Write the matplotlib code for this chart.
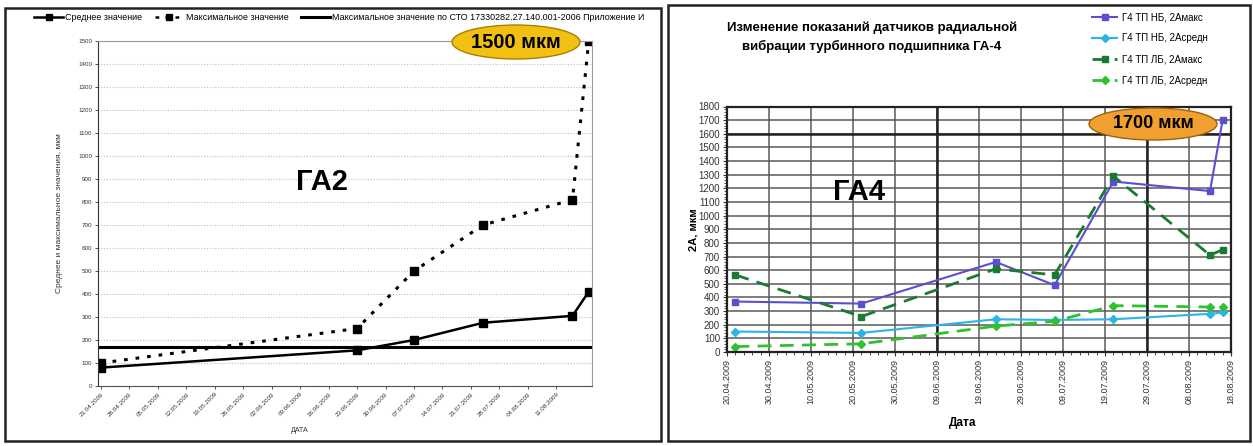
import pandas as pd
import matplotlib.pyplot as plt
import matplotlib.dates as mdates
from matplotlib.patches import Ellipse, Rectangle
from matplotlib.lines import Line2D
from matplotlib.ticker import MultipleLocator, FixedLocator

plt.rcParams['font.family'] = ['Liberation Sans', 'DejaVu Sans']

# ГА2: среднее и максимальное значения
ga2_dates = pd.to_datetime(['2009-04-21', '2009-06-23', '2009-07-07',
                            '2009-07-24', '2009-08-15', '2009-08-19'])
ga2_mean = [80, 155, 200, 275, 305, 410]
ga2_max = [100, 250, 500, 700, 810, 1500]
ga2_limit = 170
ga2_ticks = pd.date_range('2009-04-21', '2009-08-11', freq='7D')

# ГА4: датчики радиальной вибрации
ga4_dates = pd.to_datetime(['2009-04-22', '2009-05-22', '2009-06-23', '2009-07-07',
                            '2009-07-21', '2009-08-13', '2009-08-16'])
nb_max = [370, 355, 660, 490, 1250, 1180, 1700]
nb_mean = [150, 140, 240, 235, 240, 280, 290]
lb_max = [565, 260, 610, 565, 1290, 710, 750]
lb_mean = [40, 60, 190, 225, 340, 330, 330]
ga4_ticks = pd.date_range('2009-04-20', '2009-08-18', freq='10D')

W, H = 1253, 446
fig = plt.figure(figsize=(W / 100, H / 100), dpi=100)


def box(x0, y0, x1, y1):
    # pixel box (top-left origin) -> figure fraction rect
    return [x0 / W, 1 - y1 / H, (x1 - x0) / W, (y1 - y0) / H]


# panel frames
for x0, y0, x1, y1 in [(5, 8, 661, 441), (668, 5, 1250, 441)]:
    r = box(x0, y0, x1, y1)
    fig.add_artist(Rectangle((r[0], r[1]), r[2], r[3], transform=fig.transFigure,
                             fill=False, edgecolor='#222222', lw=1.8))

# ---------------- left chart ----------------
ax1 = fig.add_axes(box(98, 41, 592, 386))
ax1.plot(ga2_dates, ga2_mean, color='black', lw=1.8, marker='s', ms=6)
ax1.plot(ga2_dates, ga2_max, color='black', lw=2.2, ls=(0, (1.2, 2.6)),
         marker='s', ms=6)
ax1.axhline(ga2_limit, color='black', lw=2.2)

d0 = mdates.date2num(pd.Timestamp('2009-04-21'))
ax1.set_xlim(d0 - 0.75, d0 + 120.8)
ax1.set_ylim(0, 1500)
ax1.yaxis.set_major_locator(MultipleLocator(100))
ax1.set_xticks(mdates.date2num(ga2_ticks))
ax1.set_xticklabels([d.strftime('%d.%m.%Y') for d in ga2_ticks],
                    rotation=45, ha='right', rotation_mode='anchor')
ax1.tick_params(labelsize=4.5, length=2, width=0.6, colors='#333333', pad=2)
ax1.yaxis.grid(True, color='#bdbdbd', lw=0.8, ls=(0, (1, 1.5)))
ax1.set_axisbelow(True)
for s in ['top', 'right']:
    ax1.spines[s].set_color('#9a9a9a')
    ax1.spines[s].set_linewidth(0.8)
ax1.spines['left'].set_color('#333333')
ax1.spines['bottom'].set_color('#555555')
ax1.set_ylabel('Среднее и максимальное значения, мкм', fontsize=6, color='#333333')
ax1.yaxis.set_label_coords(-0.071, 0.5)
fig.text(300 / W, 1 - 431 / H, 'ДАТА', fontsize=5, ha='center', va='center', color='#333333')
fig.text(322 / W, 1 - 182 / H, 'ГА2', fontsize=21, weight='bold', ha='center', va='center')

leg_handles = [
    Line2D([], [], color='black', lw=1.8, marker='s', ms=5),
    Line2D([], [], color='black', lw=1.8, ls=(0, (1.5, 2.5)), marker='s', ms=5),
    Line2D([], [], color='black', lw=2.2),
]
leg_labels = ['Среднее значение', 'Максимальное значение',
              'Максимальное значение по СТО 17330282.27.140.001-2006 Приложение И']
fig.legend(leg_handles, leg_labels, loc='center left', bbox_to_anchor=(34 / W, 1 - 18 / H),
           ncol=3, frameon=False, fontsize=6.4, handlelength=3.3, columnspacing=1.4,
           handletextpad=0.2, borderpad=0, borderaxespad=0)

e = Ellipse((516 / W, 1 - 42 / H), 128 / W, 34 / H, transform=fig.transFigure,
            facecolor='#f2c012', edgecolor='#a88000', lw=1, zorder=5)
fig.add_artist(e)
fig.text(516 / W, 1 - 42 / H, '1500 мкм', fontsize=14.5, weight='bold',
         ha='center', va='center', zorder=6)

# ---------------- right chart ----------------
ax2 = fig.add_axes(box(727, 106.5, 1231, 352))
ax2.plot(ga4_dates, nb_max, color='#5a4fcf', lw=1.5, marker='s', ms=5,
         label='Г4 ТП НБ, 2Амакс')
ax2.plot(ga4_dates, nb_mean, color='#2bb5e6', lw=1.5, marker='D', ms=4,
         label='Г4 ТП НБ, 2Асредн')
ax2.plot(ga4_dates, lb_max, color='#1b7a32', lw=2, ls=(0, (5, 3)), marker='s', ms=5,
         label='Г4 ТП ЛБ, 2Амакс')
ax2.plot(ga4_dates, lb_mean, color='#2ec22e', lw=2, ls=(0, (5, 3)), marker='D', ms=4,
         label='Г4 ТП ЛБ, 2Асредн')

s0 = mdates.date2num(pd.Timestamp('2009-04-20'))
ax2.set_xlim(s0, s0 + 120)
ax2.set_ylim(0, 1800)
ax2.yaxis.set_major_locator(MultipleLocator(100))
ax2.yaxis.set_minor_locator(MultipleLocator(20))
ax2.set_xticks(mdates.date2num(ga4_ticks))
ax2.xaxis.set_minor_locator(FixedLocator([s0 + i for i in range(0, 121, 2)]))
ax2.set_xticklabels([d.strftime('%d.%m.%Y') for d in ga4_ticks], rotation=90,
                    ha='center', va='top')
ax2.tick_params(which='major', labelsize=6.5, length=3, colors='#333333', pad=2)
ax2.tick_params(axis='y', which='major', labelsize=7)
ax2.tick_params(which='minor', length=2, colors='#333333')
ax2.grid(True, which='major', color='#5a5a5a', lw=1.1)
for d in ['2009-06-09', '2009-07-29']:
    ax2.axvline(mdates.date2num(pd.Timestamp(d)), color='#222222', lw=1.8, zorder=1)
ax2.axhline(1600, color='#222222', lw=1.8, zorder=1)
ax2.set_axisbelow(True)
for s in ax2.spines.values():
    s.set_color('#222222')
    s.set_linewidth(1.6)
ax2.set_ylabel('2А, мкм', fontsize=8, weight='bold')
ax2.yaxis.set_label_coords(-(727 - 698) / 504, 0.5)
fig.text(963 / W, 1 - 423 / H, 'Дата', fontsize=8.5, weight='bold', ha='center', va='center')
fig.text(859 / W, 1 - 192 / H, 'ГА4', fontsize=21, weight='bold', ha='center', va='center')
fig.text(872 / W, 1 - 37 / H, 'Изменение показаний датчиков радиальной\n'
         'вибрации турбинного подшипника ГА-4', fontsize=9.5, weight='bold',
         ha='center', va='center', linespacing=1.6)
ax2.legend(loc='upper left', bbox_to_anchor=(1092 / W, 1 - 12 / H),
           bbox_transform=fig.transFigure, frameon=False, fontsize=7,
           handlelength=2.6, labelspacing=1.15, handletextpad=0.5,
           borderpad=0, borderaxespad=0)

e2 = Ellipse((1153 / W, 1 - 124 / H), 128 / W, 32 / H, transform=fig.transFigure,
             facecolor='#f0a030', edgecolor='#a0600f', lw=1, zorder=5)
fig.add_artist(e2)
fig.text(1153 / W, 1 - 124 / H, '1700 мкм', fontsize=13, weight='bold',
         ha='center', va='center', zorder=6)

fig.savefig('out.png', dpi=100)
